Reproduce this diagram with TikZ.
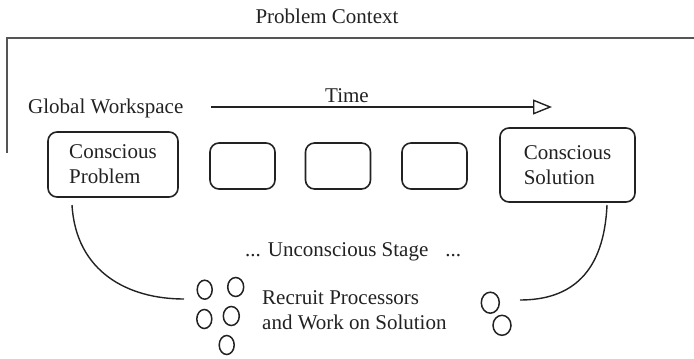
\documentclass[tikz,border=0pt]{standalone}
\usepackage{fontspec}
\setmainfont{Liberation Serif}
\usetikzlibrary{arrows.meta,shapes.geometric}
\definecolor{ink}{HTML}{222222}
\definecolor{framegray}{HTML}{555555}
\tikzset{
  txt/.style={inner sep=0pt, text=ink, font=\fontsize{21}{25}\selectfont},
  stagebox/.style={draw=ink, line width=1.6pt, rounded corners=9pt, inner sep=0pt, align=left,
                   text=ink, font=\fontsize{21}{25}\selectfont},
  proc/.style={draw=ink, ellipse, line width=1.5pt, inner sep=0pt},
  link/.style={draw=ink, line width=1.4pt},
}
\begin{document}
\begin{tikzpicture}[x=1pt,y=-1pt]
\useasboundingbox (0,0) rectangle (694,359);
% frame
\draw[framegray, line width=2.4pt] (7,153) -- (7,38) -- (695,38);
\node[txt, anchor=base] (ctx) at (327,23) {Problem Context};
\node[txt, anchor=base west] (gw) at (28,113) {Global Workspace};
% time arrow
\coordinate (ta) at (211,107);
\coordinate (tb) at (552,107);
\draw[ink, line width=1.4pt, -{Triangle[open, length=19pt, width=15pt, line width=1.4pt]}] (ta) -- (tb);
\node[txt, anchor=base west] (time) at (325,102) {Time};
% boxes
\node[stagebox, minimum width=130pt, minimum height=65pt] (prob) at (113,164.5) {Conscious\\Problem};
\node[stagebox, minimum width=65pt, minimum height=46pt] (s1) at (242.5,166) {};
\node[stagebox, minimum width=65pt, minimum height=46pt] (s2) at (338,166) {};
\node[stagebox, minimum width=65pt, minimum height=46pt] (s3) at (434.5,166) {};
\node[stagebox, minimum width=135pt, minimum height=74pt] (sol) at (567.5,165) {Conscious\\Solution};
% unconscious stage
\node[txt, anchor=base west] (unc) at (245,256) {... Unconscious Stage\hspace{17pt}...};
% processors
\node[proc, minimum width=15pt, minimum height=19pt] (p1) at (204.7,289.7) {};
\node[proc, minimum width=16pt, minimum height=19pt] (p2) at (235.7,287) {};
\node[proc, minimum width=15pt, minimum height=19pt] (p3) at (204.3,319) {};
\node[proc, minimum width=16pt, minimum height=19pt] (p4) at (231.3,316) {};
\node[proc, minimum width=15pt, minimum height=19pt] (p5) at (226.7,345) {};
\node[proc, minimum width=18pt, minimum height=21pt] (p6) at (490.3,302.7) {};
\node[proc, minimum width=18pt, minimum height=20pt] (p7) at (502,325.3) {};
\node[txt, anchor=west, align=left] (rec) at (262,310) {Recruit Processors\\and Work on Solution};
% connectors
\coordinate (l0) at (72,205);
\coordinate (l1) at (184,299);
\coordinate (r0) at (607,205);
\coordinate (r1) at (520,300);
\draw[link] (l0) .. controls (76,272) and (128,299) .. (l1);
\draw[link] (r0) .. controls (604,272) and (572,300) .. (r1);
\end{tikzpicture}
\end{document}
